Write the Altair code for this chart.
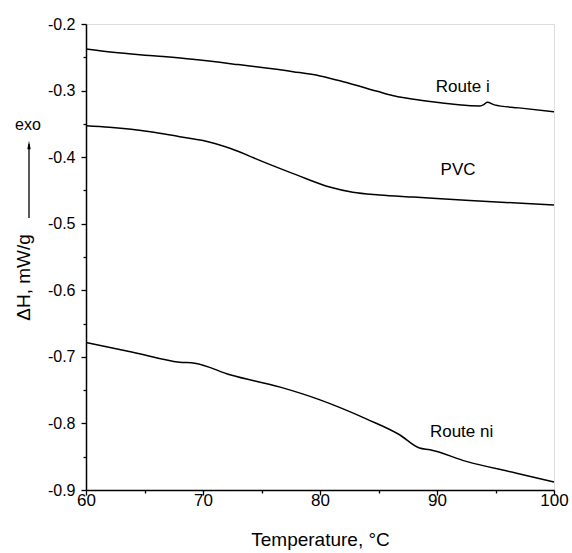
import altair as alt
import pandas as pd

# --- data ---
route_i_T = [60, 62.3, 66, 69.1, 73, 77.7, 80, 82, 84.9, 86.2, 89.1, 93.7, 94.0, 94.3, 94.9, 97, 100]
route_i_H = [-0.2375, -0.2425, -0.248, -0.253, -0.261, -0.2716, -0.278, -0.2866, -0.3011, -0.3075,
             -0.3157, -0.323, -0.321, -0.3176, -0.3215, -0.326, -0.3317]

pvc_T = [60, 62, 65.5, 68, 70, 72.3, 75.1, 78, 80.9, 82.8, 85.1, 88, 92.8, 100]
pvc_H = [-0.3527, -0.355, -0.3617, -0.3692, -0.375, -0.3867, -0.4067, -0.4267, -0.4453, -0.4528,
         -0.4568, -0.460, -0.4653, -0.4718]

route_ni_T = [60, 64, 68, 69.3, 72.3, 76.6, 80, 84, 86.8, 88.5, 89.4, 92.5, 96.8, 100]
route_ni_H = [-0.6785, -0.693, -0.708, -0.7095, -0.727, -0.7455, -0.7646, -0.7935, -0.817, -0.837,
              -0.8396, -0.857, -0.8747, -0.888]

label_text = ["Route i", "PVC", "Route ni"]
label_T = [92.2, 91.8, 92.1]
label_H = [-0.2946, -0.419, -0.8126]

x_major = [60, 70, 80, 90, 100]
x_minor = [65, 75, 85, 95]
y_major = [-0.9, -0.8, -0.7, -0.6, -0.5, -0.4, -0.3, -0.2]
y_minor = [-0.85, -0.75, -0.65, -0.55, -0.45, -0.35, -0.25]

rows = []
for name, ts, hs in [("Route i", route_i_T, route_i_H), ("PVC", pvc_T, pvc_H), ("Route ni", route_ni_T, route_ni_H)]:
    for t, h in zip(ts, hs):
        rows.append({"series": name, "T": t, "H": h})
df = pd.DataFrame(rows)
labels = pd.DataFrame({"label": label_text, "T": label_T, "H": label_H})
anno = pd.DataFrame({"a": [0]})

FONT = "Liberation Sans"

x_scale = alt.Scale(domain=[60, 100], nice=False, zero=False)
y_scale = alt.Scale(domain=[-0.9, -0.2], nice=False, zero=False)

common = dict(grid=False, domainColor="black", domainWidth=1.5, tickColor="black", tickWidth=1.3,
              labelColor="black", titleColor="black")

x_axis = alt.Axis(
    orient="bottom", values=x_major, format="d", tickSize=5,
    title="Temperature, °C",
    titleFontSize=19, titleFont=FONT, titleFontWeight="normal", titlePadding=22,
    labelFontSize=17, labelFont=FONT, labelPadding=-3, labelFlush=False,
    **common,
)
y_axis = alt.Axis(
    orient="left", values=y_major, tickSize=5,
    labelExpr="replace(format(datum.value, '.1f'), '\u2212', '-')",
    title="ΔH, mW/g",
    titleFontSize=19, titleFont=FONT, titleFontWeight="normal",
    titleX=-63, titleY=253, titleAngle=270, titleBaseline="middle", titleAlign="center",
    labelFontSize=16, labelFont=FONT, labelPadding=6, labelFlush=False,
    **common,
)
x_axis_minor = alt.Axis(orient="bottom", values=x_minor, tickSize=3, labels=False, title=None,
                        domain=False, grid=False, tickColor="black", tickWidth=1.3)
y_axis_minor = alt.Axis(orient="left", values=y_minor, tickSize=3, labels=False, title=None,
                        domain=False, grid=False, tickColor="black", tickWidth=1.3)

lines = alt.Chart(df).mark_line(color="black", strokeWidth=1.5, interpolate="monotone").encode(
    x=alt.X("T:Q", scale=x_scale, axis=x_axis),
    y=alt.Y("H:Q", scale=y_scale, axis=y_axis),
    detail="series:N",
    order="T:Q",
)

minor = alt.Chart(df).mark_point(opacity=0).encode(
    x=alt.X("T:Q", scale=x_scale, axis=x_axis_minor),
    y=alt.Y("H:Q", scale=y_scale, axis=y_axis_minor),
)

texts = alt.Chart(labels).mark_text(font=FONT, fontSize=17, color="black", align="center", baseline="middle").encode(
    x=alt.X("T:Q", scale=x_scale, axis=None),
    y=alt.Y("H:Q", scale=y_scale, axis=None),
    text="label:N",
)

arrow_line = alt.Chart(anno).mark_rule(color="black", strokeWidth=1.3).encode(
    x=alt.value(-57), y=alt.value(120), y2=alt.value(194)
)
arrow_head = alt.Chart(anno).mark_point(
    shape="M0,-1 L0.4,1 L-0.4,1 Z", filled=True, color="black", opacity=1, size=70
).encode(x=alt.value(-57), y=alt.value(121))
exo = alt.Chart(anno).mark_text(font=FONT, fontSize=16, color="black", align="center", baseline="middle", text="exo").encode(
    x=alt.value(-58), y=alt.value(101)
)

chart = alt.layer(lines, minor, texts, arrow_line, arrow_head, exo).resolve_axis(
    x="independent", y="independent"
).properties(
    width=468, height=466,
    padding={"left": 86, "top": 24, "right": 18, "bottom": 63},
    autosize=alt.AutoSizeParams(type="none"),
).configure_view(stroke="black", strokeWidth=1.5).configure(background="white")

chart.save("out.html", embed_options={"renderer": "svg", "actions": False})
